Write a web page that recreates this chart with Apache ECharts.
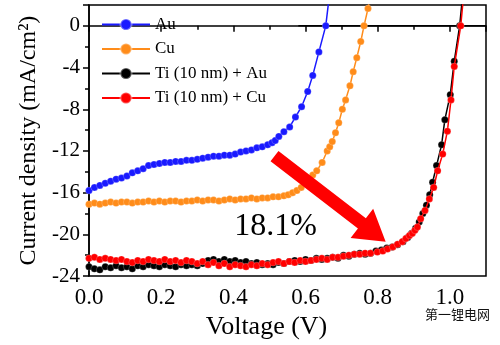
<!DOCTYPE html>
<html>
<head>
<meta charset="utf-8">
<script src="https://cdn.jsdelivr.net/npm/echarts@6/dist/echarts.min.js"></script>
<style>
  html, body { margin: 0; padding: 0; background: #fff; }
  #chart { width: 500px; height: 345px; }
</style>
</head>
<body>
<div id="chart"></div>
<script>
// legend names
const seriesNames = ['Au', 'Cu', 'Ti (10 nm) + Au', 'Ti (10 nm) + Cu']

// Au
const auV = [0.000, 0.015, 0.030, 0.045, 0.060, 0.075, 0.090, 0.105, 0.120, 0.135, 0.150, 0.165, 0.180, 0.195, 0.210, 0.225, 0.240, 0.255, 0.270, 0.285, 0.300, 0.315, 0.330, 0.345, 0.360, 0.375, 0.390, 0.405, 0.420, 0.435, 0.450, 0.465, 0.480, 0.495, 0.507, 0.516, 0.526, 0.540, 0.556, 0.572, 0.589, 0.606, 0.620, 0.637, 0.656, 0.668]
const auJ = [-15.8, -15.5, -15.3, -15.1, -14.9, -14.7, -14.6, -14.4, -14.1, -13.9, -13.7, -13.4, -13.3, -13.2, -13.1, -13.1, -13.0, -13.0, -12.9, -12.9, -12.8, -12.7, -12.6, -12.5, -12.5, -12.4, -12.4, -12.3, -12.1, -12.0, -11.9, -11.7, -11.6, -11.4, -11.2, -11.0, -10.6, -10.15, -9.7, -8.75, -7.75, -6.3, -4.75, -2.5, 0.0, 3.5]

// Cu
const cuV = [0.000, 0.015, 0.030, 0.045, 0.060, 0.075, 0.090, 0.105, 0.120, 0.135, 0.150, 0.165, 0.180, 0.195, 0.210, 0.225, 0.240, 0.255, 0.270, 0.285, 0.300, 0.315, 0.330, 0.345, 0.360, 0.375, 0.390, 0.405, 0.420, 0.435, 0.450, 0.465, 0.480, 0.495, 0.510, 0.525, 0.540, 0.552, 0.564, 0.576, 0.588, 0.600, 0.610, 0.620, 0.631, 0.646, 0.660, 0.667, 0.674, 0.683, 0.692, 0.702, 0.711, 0.723, 0.732, 0.742, 0.753, 0.762, 0.773, 0.782]
const cuJ = [-17.1, -17.0, -17.1, -17.0, -16.9, -17.0, -16.9, -16.9, -17.0, -16.9, -16.9, -16.8, -16.9, -16.8, -16.9, -16.8, -16.8, -16.9, -16.8, -16.8, -16.7, -16.8, -16.7, -16.7, -16.8, -16.7, -16.6, -16.7, -16.6, -16.6, -16.5, -16.6, -16.5, -16.5, -16.4, -16.4, -16.3, -16.2, -16.0, -15.8, -15.5, -15.1, -14.8, -14.3, -13.9, -13.1, -12.0, -11.6, -11.1, -10.25, -9.3, -8.0, -7.1, -5.75, -4.4, -3.05, -1.5, 0.0, 1.66, 3.5]

// Ti (10 nm) + Au
const tiAuV = [0.000, 0.015, 0.030, 0.045, 0.060, 0.075, 0.090, 0.105, 0.120, 0.135, 0.150, 0.165, 0.180, 0.195, 0.210, 0.225, 0.240, 0.255, 0.270, 0.285, 0.300, 0.315, 0.330, 0.345, 0.360, 0.375, 0.390, 0.405, 0.420, 0.435, 0.450, 0.465, 0.480, 0.495, 0.510, 0.525, 0.540, 0.555, 0.570, 0.585, 0.600, 0.615, 0.630, 0.645, 0.660, 0.675, 0.690, 0.705, 0.720, 0.735, 0.750, 0.765, 0.780, 0.795, 0.810, 0.825, 0.840, 0.855, 0.870, 0.883, 0.894, 0.905, 0.915, 0.925, 0.935, 0.944, 0.952, 0.963, 0.977, 0.986, 1.001, 1.012, 1.027, 1.034]
const tiAuJ = [-23.1, -23.3, -23.4, -23.1, -23.2, -23.0, -23.2, -23.1, -23.3, -23.0, -23.1, -22.9, -23.0, -23.1, -22.9, -23.0, -23.1, -22.9, -23.0, -22.9, -23.0, -22.8, -22.5, -22.4, -22.6, -22.4, -22.6, -22.5, -22.7, -22.6, -22.8, -22.7, -22.9, -22.8, -22.9, -22.7, -22.8, -22.6, -22.5, -22.6, -22.4, -22.5, -22.3, -22.4, -22.3, -22.2, -22.3, -22.0, -22.1, -21.9, -21.8, -21.9, -21.8, -21.6, -21.5, -21.3, -21.2, -21.0, -20.7, -20.3, -19.9, -19.4, -18.8, -18.0, -17.2, -16.2, -15.0, -13.4, -11.4, -9.0, -6.6, -3.4, 0.0, 2.5]

// Ti (10 nm) + Cu
const tiCuV = [0.000, 0.015, 0.030, 0.045, 0.060, 0.075, 0.090, 0.105, 0.120, 0.135, 0.150, 0.165, 0.180, 0.195, 0.210, 0.225, 0.240, 0.255, 0.270, 0.285, 0.300, 0.315, 0.330, 0.345, 0.360, 0.375, 0.390, 0.405, 0.420, 0.435, 0.450, 0.465, 0.480, 0.495, 0.510, 0.525, 0.540, 0.555, 0.570, 0.585, 0.600, 0.615, 0.630, 0.645, 0.660, 0.675, 0.690, 0.705, 0.720, 0.735, 0.750, 0.765, 0.780, 0.799, 0.814, 0.827, 0.842, 0.855, 0.868, 0.878, 0.888, 0.896, 0.903, 0.910, 0.919, 0.931, 0.943, 0.955, 0.966, 0.980, 0.993, 1.003, 1.012, 1.030, 1.036]
const tiCuJ = [-22.3, -22.2, -22.4, -22.3, -22.4, -22.5, -22.4, -22.6, -22.7, -22.5, -22.6, -22.4, -22.5, -22.6, -22.4, -22.6, -22.5, -22.7, -22.5, -22.6, -22.8, -22.6, -22.9, -22.7, -23.0, -22.8, -23.1, -22.9, -23.0, -23.1, -22.9, -23.0, -22.8, -22.9, -22.7, -22.6, -22.8, -22.6, -22.7, -22.5, -22.6, -22.5, -22.4, -22.3, -22.4, -22.2, -22.2, -22.1, -22.0, -21.9, -21.9, -21.8, -21.8, -21.7, -21.6, -21.4, -21.2, -20.95, -20.7, -20.4, -20.1, -19.9, -19.6, -19.3, -18.5, -17.7, -16.6, -15.5, -13.9, -12.3, -10.1, -7.1, -3.9, 0.0, 2.2]

// zero reference line (V range)
const zeroLineV = [0.58, 1.1]

// annotation: efficiency label and arrow (data coords)
const effLabel = '18.1%'
const effLabelAt = [0.517, -19.3]
const arrowFrom = [0.514, -12.5]
const arrowTo = [0.822, -20.7]

const FONT = '"Liberation Serif", "Times New Roman", serif'

const zip = (xs, ys) => xs.map((x, i) => [x, ys[i]])

const mkSeries = (name, xs, ys, color, z) => ({
  name,
  type: 'line',
  data: zip(xs, ys),
  symbol: 'circle',
  symbolSize: 7,
  showAllSymbol: true,
  z,
  lineStyle: { color, width: 1.5 },
  itemStyle: { color, borderColor: 'rgba(255,255,255,0.35)', borderWidth: 0.6 }
})

const chart = echarts.init(document.getElementById('chart'), null, { renderer: 'canvas' })

const option = {
  animation: false,
  backgroundColor: '#fff',
  textStyle: { fontFamily: FONT, color: '#000' },
  grid: {
    left: 89, right: 14, top: 5, bottom: 67,
    show: true, borderColor: '#000', borderWidth: 1.5
  },
  legend: {
    data: seriesNames,
    orient: 'vertical',
    left: 96, top: 11,
    itemWidth: 48, itemHeight: 14, itemGap: 7.5,
    textStyle: { fontFamily: FONT, fontSize: 17, color: '#000' }
  },
  xAxis: {
    type: 'value',
    min: 0, max: 1.1, interval: 0.2,
    name: 'Voltage (V)',
    nameLocation: 'middle',
    nameGap: 35,
    nameTextStyle: { fontFamily: FONT, fontSize: 26, color: '#000', padding: [0, 42, 0, 0] },
    axisLine: { show: true, lineStyle: { color: '#000', width: 1.5 } },
    axisTick: { show: true, inside: false, length: 6, lineStyle: { color: '#000', width: 1.5 } },
    minorTick: { show: true, splitNumber: 2, length: 4, lineStyle: { color: '#000', width: 1.5 } },
    splitLine: { show: false },
    axisLabel: {
      fontFamily: FONT, fontSize: 23, color: '#000', margin: 10,
      showMaxLabel: false,
      formatter: v => v.toFixed(1)
    }
  },
  yAxis: {
    type: 'value',
    min: -24, max: 2, interval: 4,
    name: 'Current density (mA/cm²)',
    nameLocation: 'middle',
    nameGap: 45,
    nameTextStyle: { fontFamily: FONT, fontSize: 24, color: '#000' },
    axisLine: { show: true, lineStyle: { color: '#000', width: 1.5 } },
    axisTick: { show: true, inside: false, length: 6, lineStyle: { color: '#000', width: 1.5 } },
    minorTick: { show: true, splitNumber: 2, length: 4, lineStyle: { color: '#000', width: 1.5 } },
    splitLine: { show: false },
    axisLabel: {
      fontFamily: FONT, fontSize: 21, color: '#000', margin: 9,
      showMaxLabel: false
    }
  },
  series: [
    mkSeries(seriesNames[0], auV, auJ, '#1a1aff', 4),
    mkSeries(seriesNames[1], cuV, cuJ, '#ff8c1a', 4),
    mkSeries(seriesNames[2], tiAuV, tiAuJ, '#000000', 3),
    mkSeries(seriesNames[3], tiCuV, tiCuJ, '#ff0000', 3.5),
    {
      name: 'zero',
      type: 'line',
      data: zeroLineV.map(v => [v, 0]),
      symbol: 'none',
      silent: true,
      z: 2,
      lineStyle: { color: '#000', width: 1.5 }
    }
  ]
}

chart.setOption(option)

// arrow + efficiency label, positioned from data coordinates
const p0 = chart.convertToPixel({ gridIndex: 0 }, arrowFrom)
const p1 = chart.convertToPixel({ gridIndex: 0 }, arrowTo)
const dx = p1[0] - p0[0], dy = p1[1] - p0[1]
const len = Math.hypot(dx, dy)
const ux = dx / len, uy = dy / len
const nx = -uy, ny = ux
const bodyHalf = 6.5, headHalf = 18.5, headLen = 30
const hb = [p1[0] - ux * headLen, p1[1] - uy * headLen]
const pts = [
  [p0[0] + nx * bodyHalf, p0[1] + ny * bodyHalf],
  [hb[0] + nx * bodyHalf, hb[1] + ny * bodyHalf],
  [hb[0] + nx * headHalf, hb[1] + ny * headHalf],
  p1,
  [hb[0] - nx * headHalf, hb[1] - ny * headHalf],
  [hb[0] - nx * bodyHalf, hb[1] - ny * bodyHalf],
  [p0[0] - nx * bodyHalf, p0[1] - ny * bodyHalf]
]
const lp = chart.convertToPixel({ gridIndex: 0 }, effLabelAt)

chart.setOption({
  graphic: [
    {
      type: 'polygon', z: 100,
      shape: { points: pts },
      style: { fill: '#ff0000' }
    },
    {
      type: 'text', z: 100,
      x: lp[0], y: lp[1],
      style: {
        text: effLabel, fontFamily: FONT, fontSize: 32, fill: '#000',
        align: 'center', verticalAlign: 'middle'
      }
    },
    {
      type: 'text', z: 100,
      right: 10, top: 308,
      style: {
        text: '第一锂电网', fontFamily: '"Noto Sans CJK SC", sans-serif', fontSize: 13, fill: '#111'
      }
    }
  ]
})
</script>
</body>
</html>
